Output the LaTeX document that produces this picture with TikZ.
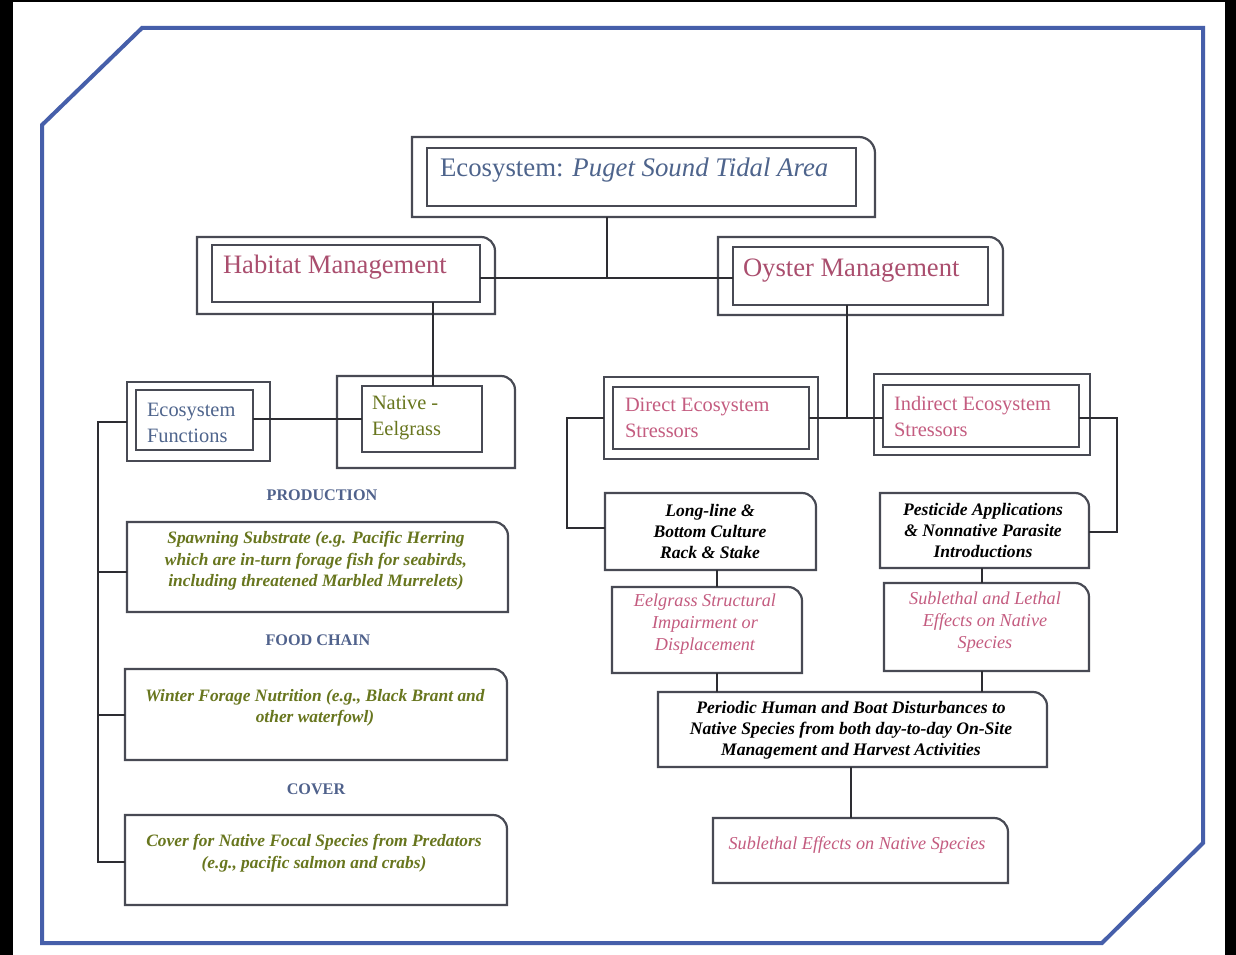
\documentclass[tikz,border=0pt]{standalone}
\usepackage{fontspec}
\setmainfont{Liberation Serif}
\usetikzlibrary{calc,fit}
\definecolor{frameblue}{RGB}{70,95,170}
\definecolor{titleblue}{RGB}{78,100,140}
\definecolor{rose}{RGB}{170,78,110}
\definecolor{pinktext}{RGB}{196,92,128}
\definecolor{olive}{RGB}{104,118,30}
\definecolor{headblue}{RGB}{80,98,140}
\definecolor{boxgray}{RGB}{72,74,84}
\definecolor{connline}{RGB}{45,45,50}

% box placeholder: a node fitted exactly to two corner points
\newcommand\bx[5]{\node[slot, fit={(#2,#3) (#4,#5)}] (#1) {};}
% plain rectangular outline
\newcommand\sqbox[1]{\draw[boxline] (#1.south west) rectangle (#1.north east);}
% outline with only the upper right corner rounded
\newcommand\rtbox[2][14]{\draw[boxline] (#2.south west) -- (#2.north west)
  -- ($(#2.north east)+(-#1,0)$)
  .. controls ($(#2.north east)+(-0.45*#1,0)$) and ($(#2.north east)+(0,0.45*#1)$) ..
  ($(#2.north east)+(0,#1)$) -- (#2.south east) -- cycle;}
\newcommand\fs[2]{\fontsize{#1}{#2}\selectfont}

\begin{document}
\begin{tikzpicture}[x=1pt,y=-1pt,
  slot/.style={inner sep=0pt, outer sep=0pt, draw=none},
  boxline/.style={draw=boxgray, line width=2.2pt},
  conn/.style={draw=connline, line width=2pt},
  lbl/.style={inner sep=0pt, outer sep=0pt, anchor=west, align=left},
  ctr/.style={inner sep=0pt, outer sep=0pt, align=center},
  greentext/.style={ctr, text=olive, font=\fs{17.4}{21.5}\bfseries\itshape},
  blacktext/.style={ctr, text=black, font=\fs{17.6}{21}\bfseries\itshape},
  pinkital/.style={ctr, text=pinktext, font=\fs{18.2}{22}\itshape},
  heading/.style={ctr, text=headblue, font=\fs{16.2}{18}\bfseries}]

\useasboundingbox (0,0) rectangle (1236,955);
\fill[white] (0,0) rectangle (1236,955);
\fill[black] (0,0) rectangle (13,955);
\fill[black] (1225,0) rectangle (1236,955);
\fill[black] (0,0) rectangle (1236,2);

% outer frame with two cut corners
\draw[frameblue, line width=4pt, line join=miter]
  (42,125) -- (142,28) -- (1203,28) -- (1203,843) -- (1102,943) -- (42,943) -- cycle;

% ---------- box geometry ----------
\bx{titleO}{412}{137}{875}{217}  \bx{titleI}{427}{148}{856}{206}
\bx{habO}{197}{237}{495}{314}    \bx{habI}{212}{245}{480}{302}
\bx{oysO}{718}{237}{1003}{315}   \bx{oysI}{733}{247}{988}{305}
\bx{efO}{127}{382}{270}{461}     \bx{efI}{136}{390}{253}{450}
\bx{natO}{337}{376}{515}{468}    \bx{natI}{362}{386}{482}{452}
\bx{dirO}{604}{377}{818}{459}    \bx{dirI}{613}{387}{809}{449}
\bx{indO}{874}{374}{1090}{455}   \bx{indI}{883}{385}{1079}{447}
\bx{prodB}{127}{522}{508}{612}
\bx{foodB}{125}{669}{507}{760}
\bx{coverB}{125}{815}{507}{905}
\bx{longB}{605}{493}{816}{570}
\bx{eelB}{612}{587}{802}{673}
\bx{pestB}{880}{493}{1089}{568}
\bx{lethB}{884}{583}{1089}{671}
\bx{perB}{658}{692}{1047}{767}
\bx{subB}{713}{818}{1008}{883}

% ---------- outlines ----------
\rtbox[16]{titleO} \sqbox{titleI}
\rtbox{habO} \sqbox{habI}
\rtbox{oysO} \sqbox{oysI}
\sqbox{efO} \sqbox{efI}
\rtbox{natO} \sqbox{natI}
\sqbox{dirO} \sqbox{dirI}
\sqbox{indO} \sqbox{indI}
\rtbox{prodB} \rtbox{foodB} \rtbox{coverB}
\rtbox{longB} \rtbox{eelB} \rtbox{pestB} \rtbox{lethB}
\rtbox{perB} \rtbox{subB}

% ---------- texts ----------
\node[lbl, text=titleblue, font=\fs{26.8}{30}] (titleT) at (440,170)
  {Ecosystem: \textit{Puget Sound Tidal Area}};
\node[lbl, text=rose, font=\fs{26.6}{30}] (habT) at (223,267) {Habitat Management};
\node[lbl, text=rose, font=\fs{26.6}{30}] (oysT) at (743,271) {Oyster Management};
\node[lbl, text=titleblue, font=\fs{20.4}{26}] (efT) at (147,423) {Ecosystem\\Functions};
\node[lbl, text=olive, font=\fs{20.4}{26}] (natT) at (372,418) {Native -\\Eelgrass};
\node[lbl, text=pinktext, font=\fs{20.4}{26}] (dirT) at (625,418) {Direct Ecosystem\\Stressors};
\node[lbl, text=pinktext, font=\fs{20.4}{26}] (indT) at (894,417) {Indirect Ecosystem\\Stressors};

\node[heading] (prodH) at (322,495) {PRODUCTION};
\node[heading] (foodH) at (318,640) {FOOD CHAIN};
\node[heading] (coverH) at (316,789) {COVER};

\node[greentext] (prodT) at (316,561)
  {Spawning Substrate (e.g. Pacific Herring\\which are in-turn forage fish for seabirds,\\including threatened Marbled Murrelets)};
\node[greentext] (foodT) at (315,708)
  {Winter Forage Nutrition (e.g., Black Brant and\\other waterfowl)};
\node[greentext] (coverT) at (314,853)
  {Cover for Native Focal Species from Predators\\(e.g., pacific salmon and crabs)};

\node[blacktext] (longT) at (710,531) {Long-line \&\\Bottom Culture\\Rack \& Stake};
\node[blacktext] (pestT) at (983,530) {Pesticide Applications\\\& Nonnative Parasite\\Introductions};
\node[pinkital] (eelT) at (705,624) {Eelgrass Structural\\Impairment or\\Displacement};
\node[pinkital] (lethT) at (985,622) {Sublethal and Lethal\\Effects on Native\\Species};
\node[blacktext] (perT) at (851,730)
  {Periodic Human and Boat Disturbances to\\Native Species from both day-to-day On-Site\\Management and Harvest Activities};
\node[pinkital] (subT) at (857,845) {Sublethal Effects on Native Species};

% ---------- connectors ----------
\coordinate (jTop) at (607,278);
\draw[conn] (titleO.south -| jTop) -- (jTop);
\draw[conn] (habI.east |- jTop) -- (oysI.west |- jTop);

\coordinate (xHab) at (433,0);
\draw[conn] (habI.south -| xHab) -- (natI.north -| xHab);
\coordinate (yEF) at (0,419);
\draw[conn] (efI.east |- yEF) -- (natI.west |- yEF);

\coordinate (spine) at (98,422);
\draw[conn] (efO.west |- spine) -- (spine) -- (spine |- 0,862) -- (coverB.west |- 0,862);
\draw[conn] (spine |- 0,572) -- (prodB.west |- 0,572);
\draw[conn] (spine |- 0,715) -- (foodB.west |- 0,715);

\coordinate (jOy) at (847,418);
\draw[conn] (oysI.south -| jOy) -- (jOy);
\draw[conn] (dirI.east |- jOy) -- (indI.west |- jOy);

\coordinate (lb) at (567,528);
\draw[conn] (dirO.west |- jOy) -- (lb |- jOy) -- (lb) -- (longB.west |- lb);
\coordinate (rb) at (1117,532);
\draw[conn] (indI.east |- jOy) -- (rb |- jOy) -- (rb) -- (pestB.east |- rb);

\coordinate (xL) at (717,0);
\draw[conn] (longB.south -| xL) -- (eelB.north -| xL);
\draw[conn] (eelB.south -| xL) -- (perB.north -| xL);
\coordinate (xR) at (982,0);
\draw[conn] (pestB.south -| xR) -- (lethB.north -| xR);
\draw[conn] (lethB.south -| xR) -- (perB.north -| xR);
\coordinate (xP) at (851,0);
\draw[conn] (perB.south -| xP) -- (subB.north -| xP);
\end{tikzpicture}
\end{document}
